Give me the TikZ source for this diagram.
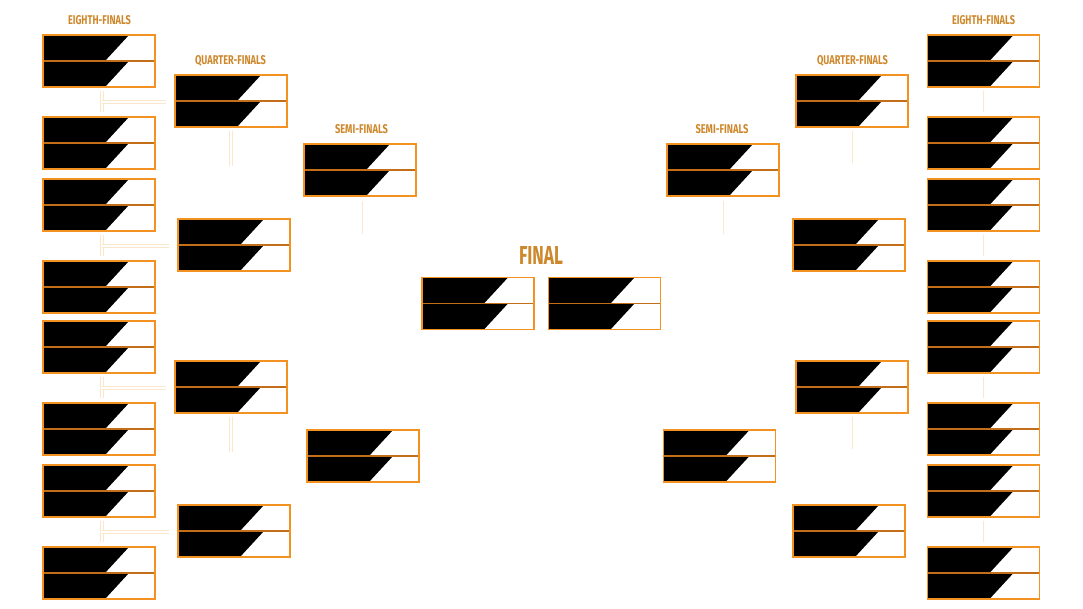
\documentclass[tikz,border=0pt]{standalone}
\usepackage{fontspec}
\setmainfont{Fira Sans}
\usepackage{tikz}
\usetikzlibrary{calc}
\definecolor{boxorange}{RGB}{243,146,32}
\definecolor{rowline}{RGB}{196,110,24}
\definecolor{titlebrown}{RGB}{206,136,44}
\definecolor{linkorange}{RGB}{252,230,204}
\tikzset{
  match/.style={draw=boxorange, line width=1pt, fill=white, inner sep=0pt,
    minimum width=84pt, minimum height=39pt,
    path picture={
      \fill[black] (path picture bounding box.north west) -- ++(64.5pt,0pt)
        -- ++(-18pt,-19.5pt) -- ++(-46.5pt,0pt) -- cycle;
      \fill[black] (path picture bounding box.west) -- ++(64.5pt,0pt)
        -- ++(-18pt,-19.5pt) -- ++(-46.5pt,0pt) -- cycle;
      \draw[rowline, line width=0.9pt] (path picture bounding box.west)
        -- (path picture bounding box.east);
    }},
  stage/.style={text=titlebrown, inner sep=0pt},
  link/.style={draw=linkorange, line width=0.35pt, double=white, double distance=1.6pt},
  thinlink/.style={draw=linkorange, line width=0.7pt}
}
\newcommand{\stagename}[3]{\resizebox{#1}{#2}{\bfseries #3}}

\begin{document}
\begin{tikzpicture}[x=0.75pt, y=-0.75pt]
  \useasboundingbox (0,0) rectangle (1083,609);

  % titles
  \node[stage] (tle) at (99.5,20.5) {\stagename{47.25pt}{6.75pt}{EIGHTH-FINALS}};
  \node[stage] (tlq) at (230.5,61) {\stagename{53.25pt}{6.75pt}{QUARTER-FINALS}};
  \node[stage] (tls) at (361.5,129.5) {\stagename{39.75pt}{6.75pt}{SEMI-FINALS}};
  \node[stage] (tf) at (541,256) {\stagename{33pt}{13.5pt}{FINAL}};
  \node[stage] (tre) at (983.5,20.5) {\stagename{47.25pt}{6.75pt}{EIGHTH-FINALS}};
  \node[stage] (trq) at (852.5,61) {\stagename{53.25pt}{6.75pt}{QUARTER-FINALS}};
  \node[stage] (trs) at (722,129.5) {\stagename{39.75pt}{6.75pt}{SEMI-FINALS}};

  % eighth-finals
  \foreach \y [count=\i] in {61,143,205,287,347,429,491,573} {
    \node[match] (le\i) at (99,\y) {};
    \node[match] (re\i) at (983.5,\y) {};
  }

  % quarter-finals
  \node[match] (lq1) at (231,101) {};
  \node[match] (lq2) at (234,245) {};
  \node[match] (lq3) at (231,387) {};
  \node[match] (lq4) at (234,531) {};
  \node[match] (rq1) at (852,101) {};
  \node[match] (rq2) at (849,245) {};
  \node[match] (rq3) at (852,387) {};
  \node[match] (rq4) at (849,531) {};

  % semi-finals
  \node[match] (ls1) at (360,170) {};
  \node[match] (ls2) at (363,456) {};
  \node[match] (rs1) at (723,170) {};
  \node[match] (rs2) at (719.5,456) {};

  % final
  \node[match] (fl) at (478,303.5) {};
  \node[match] (fr) at (604.5,303.5) {};

  % links, left side
  \foreach \a/\b/\q in {1/2/1,3/4/2,5/6/3,7/8/4} {
    \coordinate (lm\q) at ($(le\a.south)!.5!(le\b.north)+(3,0)$);
    \coordinate (lin\q) at ($(lq\q.west)+(-8,0)$);
    \draw[link] ($(le\a.south)+(3,3)$) -- ($(le\b.north)+(3,-4)$);
    \draw[link] (lm\q) -- (lm\q -| lin\q);
  }
  \foreach \q in {1,3} {
    \coordinate (lqend\q) at ($(lq\q.south)+(0,38)$);
    \draw[link] ($(lq\q.south)+(0,3)$) -- (lqend\q);
  }
  \coordinate (lsend) at ($(ls1.south)+(2,37)$);
  \draw[thinlink] ($(ls1.south)+(2,4)$) -- (lsend);

  % links, right side
  \foreach \a/\b in {1/2,3/4,5/6,7/8}
    \draw[thinlink] ($(re\a.south)+(0,3)$) -- ($(re\b.north)+(0,-4)$);
  \foreach \q in {1,3} {
    \coordinate (rqend\q) at ($(rq\q.south)+(0,35)$);
    \draw[thinlink] ($(rq\q.south)+(0,3)$) -- (rqend\q);
  }
  \coordinate (rsend) at ($(rs1.south)+(0,37)$);
  \draw[thinlink] ($(rs1.south)+(0,4)$) -- (rsend);
\end{tikzpicture}
\end{document}
